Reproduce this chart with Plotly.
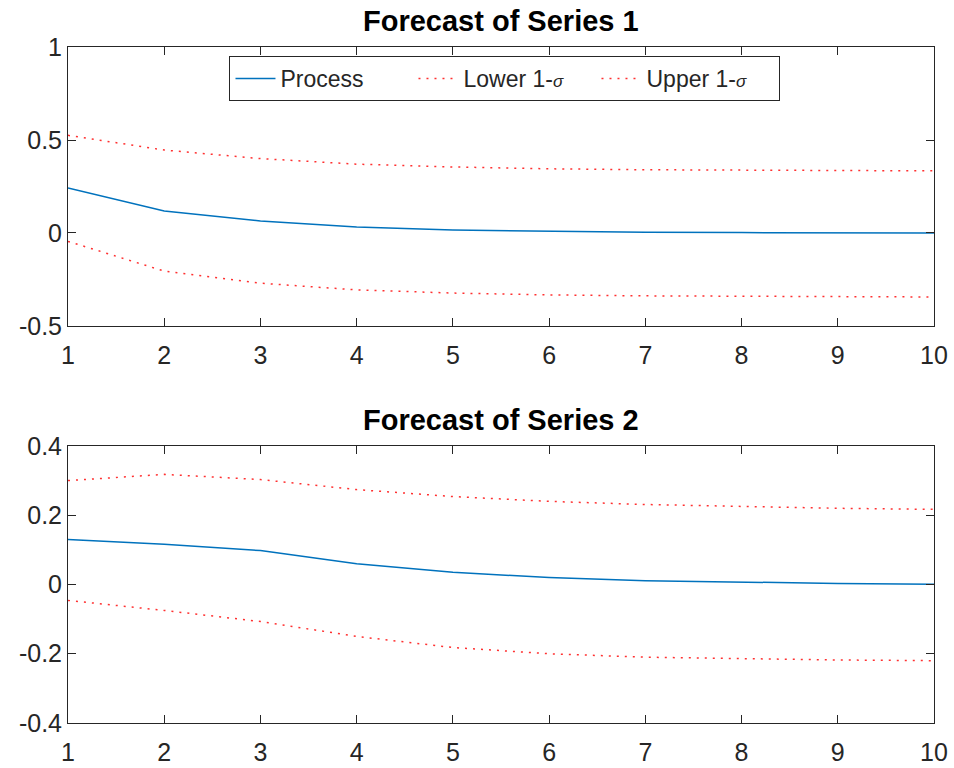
import plotly.graph_objects as go
from plotly.subplots import make_subplots

steps = [1, 2, 3, 4, 5, 6, 7, 8, 9, 10]

s1_process = [0.242, 0.118, 0.065, 0.032, 0.016, 0.008, 0.004, 0.002, 0.001, 0.0005]
s1_upper = [0.525, 0.446, 0.400, 0.370, 0.355, 0.345, 0.340, 0.338, 0.336, 0.334]
s1_lower = [-0.045, -0.205, -0.270, -0.306, -0.323, -0.333, -0.338, -0.340, -0.342, -0.344]

s2_process = [0.130, 0.116, 0.098, 0.060, 0.035, 0.020, 0.011, 0.006, 0.003, 0.001]
s2_upper = [0.300, 0.318, 0.303, 0.274, 0.254, 0.240, 0.231, 0.225, 0.220, 0.217]
s2_lower = [-0.046, -0.075, -0.107, -0.150, -0.182, -0.200, -0.210, -0.215, -0.218, -0.220]

titles = ["Forecast of Series 1", "Forecast of Series 2"]
y_ticks_1 = [-0.5, 0, 0.5, 1]
y_labels_1 = ["-0.5", "0", "0.5", "1"]
y_ticks_2 = [-0.4, -0.2, 0, 0.2, 0.4]
y_labels_2 = ["-0.4", "-0.2", "0", "0.2", "0.4"]

blue = "#0072BD"
red = "#FF3030"
axc = "#262626"
font = "Liberation Sans, Arial, sans-serif"

sig = "<span style='font-size:17px'><i>σ</i></span>"

fig = make_subplots(rows=2, cols=1)
fig.update_layout(
    xaxis=dict(domain=[0, 1]), yaxis=dict(domain=[0.5873, 1.0]),
    xaxis2=dict(domain=[0, 1]), yaxis2=dict(domain=[0.0, 0.4098]),
)

dotted = "2px,6px"
for r, (p, lo, up) in enumerate([(s1_process, s1_lower, s1_upper), (s2_process, s2_lower, s2_upper)], start=1):
    show = r == 1
    fig.add_trace(go.Scatter(x=steps, y=p, mode="lines", name="Process",
                             line=dict(color=blue, width=1.5), showlegend=show), row=r, col=1)
    fig.add_trace(go.Scatter(x=steps, y=lo, mode="lines", name="Lower 1-" + sig,
                             line=dict(color=red, width=1.5, dash=dotted), showlegend=show), row=r, col=1)
    fig.add_trace(go.Scatter(x=steps, y=up, mode="lines", name="Upper 1-" + sig,
                             line=dict(color=red, width=1.5, dash=dotted), showlegend=show), row=r, col=1)

axis_common = dict(showline=True, linecolor=axc, linewidth=1, mirror="ticks", ticks="inside",
                   ticklen=8, tickcolor=axc, showgrid=False, zeroline=False, automargin=False,
                   tickfont=dict(family=font, size=25, color=axc))
fig.update_xaxes(range=[1, 10], tickvals=steps, ticklabelstandoff=7, **axis_common)
fig.update_yaxes(range=[-0.5, 1], tickvals=y_ticks_1, ticktext=y_labels_1, row=1, col=1, **axis_common)
fig.update_yaxes(range=[-0.4, 0.4], tickvals=y_ticks_2, ticktext=y_labels_2, row=2, col=1, **axis_common)

fig.add_annotation(text="<b>" + titles[0] + "</b>", x=0.5, y=1.0, xref="paper", yref="paper",
                   yanchor="bottom", yshift=8, showarrow=False, font=dict(family=font, size=29, color="#000000"))
fig.add_annotation(text="<b>" + titles[1] + "</b>", x=0.5, y=0.4098, xref="paper", yref="paper",
                   yanchor="bottom", yshift=8, showarrow=False, font=dict(family=font, size=29, color="#000000"))

fig.update_layout(
    width=954, height=768, autosize=False,
    margin=dict(l=68, r=20, t=47, b=45),
    plot_bgcolor="white", paper_bgcolor="white",
    font=dict(family=font, size=25, color=axc),
    legend=dict(orientation="h", x=0.5046, y=0.9867, xanchor="center", yanchor="top",
                bgcolor="white", bordercolor=axc, borderwidth=1,
                font=dict(family=font, size=23, color=axc), itemwidth=40,
                entrywidth=128, tracegroupgap=0),
)

fig.write_html("out.html", config={"displayModeBar": False},
               post_script="document.body.style.margin='0';")
